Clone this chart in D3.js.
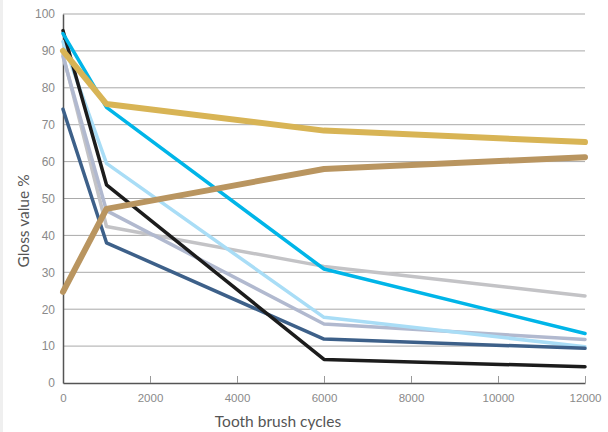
<!DOCTYPE html>
<html>
<head>
<meta charset="utf-8">
<script src="https://cdn.jsdelivr.net/npm/d3@7"></script>
<style>
  body { margin: 0; background: #fff; }
  svg { display: block; font-family: Lato, "Open Sans", sans-serif; }
</style>
</head>
<body>
<svg id="chart" width="608" height="432"></svg>
<script>
// Data
const cycles = [0, 1000, 6000, 12000];
const xTicks = [0, 2000, 4000, 6000, 8000, 10000, 12000];
const yTicks = [0, 10, 20, 30, 40, 50, 60, 70, 80, 90, 100];

const lightGray = [89, 42.4, 31.6, 23.6];
const lavender  = [88.5, 46.7, 16, 11.8];
const lightBlue = [92.5, 59.5, 17.8, 9.8];
const darkBlue  = [74.2, 38, 11.9, 9.4];
const black     = [95.5, 53.7, 6.4, 4.4];
const cyan      = [94.7, 74.7, 30.9, 13.4];
const brown     = [24.7, 47.2, 58, 61.2];
const gold      = [90, 75.6, 68.4, 65.3];

const series = [
  { values: lightGray, color: '#c3c3c6', width: 3.5 },
  { values: lavender,  color: '#b1b9cf', width: 3.5 },
  { values: lightBlue, color: '#a9ddf6', width: 3.5 },
  { values: darkBlue,  color: '#3d6089', width: 3.5 },
  { values: black,     color: '#1c1c1c', width: 3.5 },
  { values: cyan,      color: '#00b5e8', width: 3.5 },
  { values: brown,     color: '#b99560', width: 6 },
  { values: gold,      color: '#d8b455', width: 6 }
];

const svg = d3.select('#chart');
const margin = { left: 63, right: 23, top: 14, bottom: 49 };
const width = 608, height = 432;

// faint strip at the left edge
svg.append('rect')
  .attr('x', 0).attr('y', 0)
  .attr('width', 3).attr('height', height)
  .attr('fill', '#efefef');

const x = d3.scaleLinear()
  .domain([0, 12000])
  .range([margin.left, width - margin.right]);

const y = d3.scaleLinear()
  .domain([0, 100])
  .range([height - margin.bottom, margin.top]);

// Horizontal gridlines
svg.append('g')
  .selectAll('line')
  .data(yTicks.filter(d => d > 0))
  .enter().append('line')
  .attr('x1', x(0))
  .attr('x2', x(12000))
  .attr('y1', d => y(d))
  .attr('y2', d => y(d))
  .attr('stroke', '#a9a9a9')
  .attr('stroke-width', 1);

// Y axis
const yAxis = svg.append('g')
  .attr('transform', `translate(${x(0)},0)`)
  .call(d3.axisLeft(y).tickValues(yTicks).tickSize(0).tickPadding(8));
yAxis.select('.domain').attr('stroke', '#555').attr('stroke-width', 1.5);
yAxis.selectAll('text')
  .attr('fill', '#8a8a8a')
  .style('font-size', '12px');

// X axis (ticks point up into the plot)
const xAxis = svg.append('g')
  .attr('transform', `translate(0,${y(0)})`)
  .call(d3.axisTop(x).tickValues(xTicks).tickSize(7).tickSizeOuter(0).tickFormat(d3.format('d')));
xAxis.select('.domain').attr('stroke', '#555').attr('stroke-width', 1.5);
xAxis.selectAll('.tick line').attr('stroke', '#999');
xAxis.selectAll('.tick').filter(d => d === 0).select('line').remove();
xAxis.selectAll('text')
  .attr('fill', '#8a8a8a')
  .attr('y', 15)
  .attr('dy', '0.32em')
  .style('font-size', '11.5px');

// Lines
const line = d3.line()
  .x((d, i) => x(cycles[i]))
  .y(d => y(d));

svg.append('g')
  .selectAll('path')
  .data(series)
  .enter().append('path')
  .attr('d', d => line(d.values))
  .attr('fill', 'none')
  .attr('stroke', d => d.color)
  .attr('stroke-width', d => d.width)
  .attr('stroke-linejoin', 'round')
  .attr('stroke-linecap', 'round');

// Axis titles
svg.append('text')
  .attr('x', 278)
  .attr('y', 423)
  .attr('text-anchor', 'middle')
  .attr('dominant-baseline', 'middle')
  .attr('fill', '#555')
  .style('font-size', '15.5px')
  .text('Tooth brush cycles');

svg.append('text')
  .attr('transform', 'translate(25,221) rotate(-90)')
  .attr('text-anchor', 'middle')
  .attr('dominant-baseline', 'middle')
  .attr('fill', '#555')
  .style('font-size', '15.5px')
  .text('Gloss value %');
</script>
</body>
</html>
